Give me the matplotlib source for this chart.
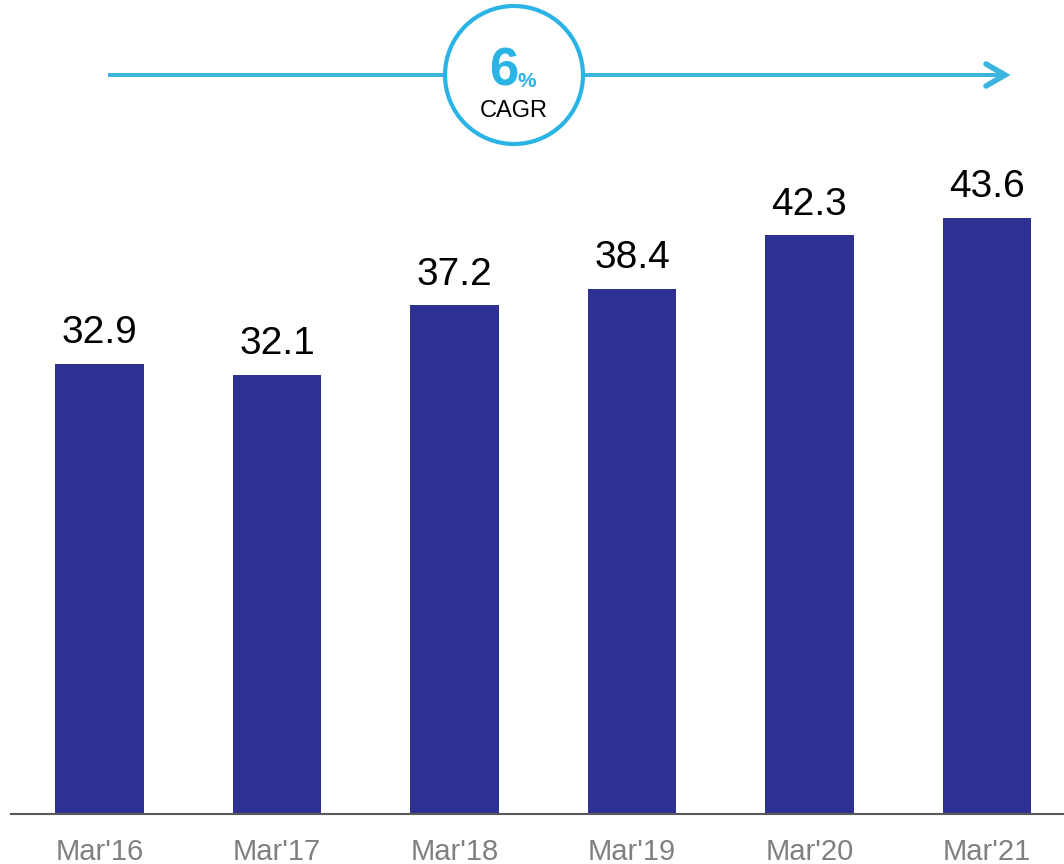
import matplotlib
matplotlib.use("Agg")
import matplotlib.pyplot as plt
from matplotlib.patches import Ellipse
from matplotlib.lines import Line2D

categories = ["Mar'16", "Mar'17", "Mar'18", "Mar'19", "Mar'20", "Mar'21"]
values = [32.9, 32.1, 37.2, 38.4, 42.3, 43.6]
cagr_value = "6"
cagr_unit = "%"
cagr_label = "CAGR"

W, H = 1064, 864
plt.rcParams['font.family'] = ['Liberation Sans', 'DejaVu Sans']
fig = plt.figure(figsize=(W / 100, H / 100), dpi=100)
ax = fig.add_axes([0, (H - 814) / H, 1, 814 / H])

bar_color = '#2E3192'
x = list(range(len(categories)))
bars = ax.bar(x, values, width=0.5, color=bar_color, zorder=2)
ax.set_xlim(-0.5606, 5.434)
ax.set_ylim(0, 814 / 13.68)

for xi, v in zip(x, values):
    ax.annotate(f"{v:.1f}", (xi, v), xytext=(0, 9), textcoords='offset points',
                ha='center', va='bottom', fontsize=28, color='black')

ax.axhline(0, xmin=11 / W, xmax=1, color='#595959', lw=1.5, zorder=3, clip_on=False)
for s in ax.spines.values():
    s.set_visible(False)
ax.set_yticks([])
ax.set_xticks(x)
ax.set_xticklabels(categories, fontsize=21, color='#808080')
ax.tick_params(axis='x', length=0, pad=17)

# CAGR arrow and circle (figure pixel coordinates)
def fx(px):
    return px / W

def fy(py):
    return 1 - py / H

cyan = '#2AB4E6'
arrow_color = '#3CB4E0'
shaft = Line2D([fx(108), fx(1002)], [fy(75), fy(75)], transform=fig.transFigure,
               color=arrow_color, lw=2.9, solid_capstyle='butt', zorder=1)
fig.add_artist(shaft)
head = Line2D([fx(986), fx(1005), fx(986)], [fy(64), fy(75), fy(86)], transform=fig.transFigure,
              color=arrow_color, lw=4, solid_capstyle='round', solid_joinstyle='miter', zorder=1)
fig.add_artist(head)
circ = Ellipse((fx(514), fy(75)), width=138 / W, height=138 / H, transform=fig.transFigure,
               facecolor='white', edgecolor=cyan, lw=3, zorder=2)
fig.add_artist(circ)
fig.text(fx(518), fy(85), cagr_value, ha='right', va='baseline', fontsize=38,
         fontweight='bold', color=cyan, zorder=3)
fig.text(fx(518), fy(87), cagr_unit, ha='left', va='baseline', fontsize=15,
         fontweight='bold', color=cyan, zorder=3)
fig.text(fx(514), fy(117), cagr_label, ha='center', va='baseline', fontsize=17,
         color='black', zorder=3)

fig.savefig('out.png', dpi=100)
